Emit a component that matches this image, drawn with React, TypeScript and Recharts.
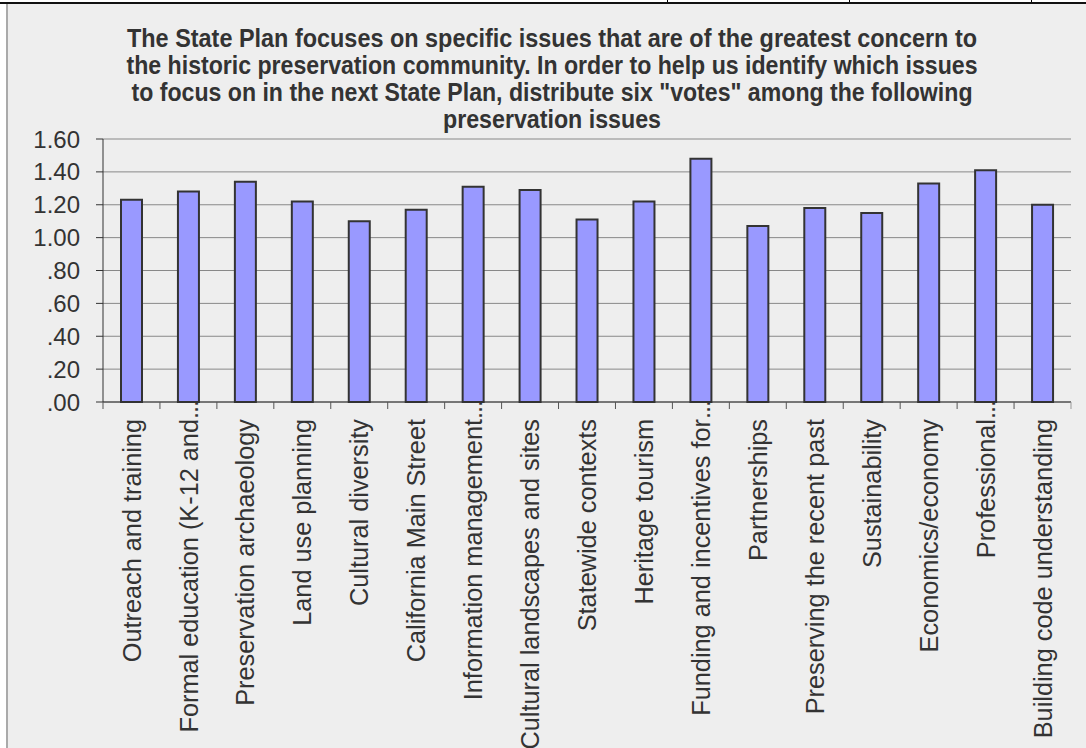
import React from "react";
import { BarChart, Bar, XAxis, YAxis, CartesianGrid } from "recharts";

const categories = [
  "Outreach and training",
  "Formal education (K-12 and...",
  "Preservation archaeology",
  "Land use planning",
  "Cultural diversity",
  "California Main Street",
  "Information management...",
  "Cultural landscapes and sites",
  "Statewide contexts",
  "Heritage tourism",
  "Funding and incentives for...",
  "Partnerships",
  "Preserving the recent past",
  "Sustainability",
  "Economics/economy",
  "Professional...",
  "Building code understanding",
];

const values = [
  1.23, 1.28, 1.34, 1.22, 1.1, 1.17, 1.31, 1.29, 1.11, 1.22, 1.48, 1.07, 1.18,
  1.15, 1.33, 1.41, 1.2,
];

const yTicks = [0, 0.2, 0.4, 0.6, 0.8, 1.0, 1.2, 1.4, 1.6];

const titleLines = [
  "The State Plan focuses on specific issues that are of the greatest concern to",
  "the historic preservation community. In order to help us identify which issues",
  'to focus on in the next State Plan, distribute six "votes" among the following',
  "preservation issues",
];
const titleWidths = [850, 851, 841, 218];

const data = categories.map((name, i) => ({ name, value: values[i] }));

const W = 1086;
const H = 748;
const PLOT_LEFT = 103;
const PLOT_RIGHT = 1071;
const PLOT_TOP = 139;
const PLOT_BOTTOM = 402;
const BAND = (PLOT_RIGHT - PLOT_LEFT) / categories.length;
const FONT = "'Liberation Sans', Arial, sans-serif";
const TEXT = "#333333";

const fmtY = (v: number) => {
  const s = v.toFixed(2);
  return s.startsWith("0") ? s.slice(1) : s;
};

const XTick = (props: any) => {
  const { x, y, payload, index } = props;
  const raw: string = payload.value;
  const cut = raw.endsWith("...");
  const label = cut ? raw.slice(0, -3) : raw;
  const ly = y + 17;
  return (
    <g>
      <line x1={x - BAND / 2} y1={y} x2={x - BAND / 2} y2={y + 7} stroke="#555" />
      {index === categories.length - 1 && (
        <line x1={x + BAND / 2} y1={y} x2={x + BAND / 2} y2={y + 7} stroke="#999" />
      )}
      <text
        x={x}
        y={ly}
        transform={`rotate(-90, ${x}, ${ly})`}
        textAnchor="end"
        dy="0.36em"
        fill={TEXT}
        fontSize={25.3}
        fontFamily={FONT}
      >
        {label}
      </text>
      {cut && (
        <text
          x={x}
          y={ly}
          transform={`rotate(-90, ${x}, ${ly})`}
          textAnchor="start"
          dy="0.36em"
          fill={TEXT}
          fontSize={25.3}
          fontFamily={FONT}
          letterSpacing={-1}
        >
          ...
        </text>
      )}
    </g>
  );
};

export default function App() {
  return (
    <div
      style={{
        position: "absolute",
        left: 0,
        top: 0,
        width: W,
        height: H,
        background: "#ffffff",
        overflow: "hidden",
      }}
    >
      {/* spreadsheet edge above the chart */}
      {[667, 849, 1031].map((x) => (
        <div
          key={x}
          style={{ position: "absolute", left: x, top: 0, width: 1, height: 3, background: "#000" }}
        />
      ))}
      <div style={{ position: "absolute", left: 0, top: 2, width: W, height: 2, background: "#111" }} />
      <div
        style={{
          position: "absolute",
          left: 6,
          top: 4,
          width: W - 6,
          height: H - 4,
          background: "#eeeeee",
          borderLeft: "2px solid #aaaaaa",
          boxSizing: "border-box",
        }}
      />
      <div style={{ position: "absolute", left: 0, top: 0 }}>
        <BarChart
          width={W}
          height={H}
          data={data}
          margin={{ top: PLOT_TOP, right: W - PLOT_RIGHT, bottom: 0, left: 0 }}
        >
          <CartesianGrid vertical={false} stroke="#888888" />
          <XAxis
            dataKey="name"
            height={H - PLOT_BOTTOM}
            axisLine={{ stroke: "#333" }}
            tickLine={false}
            tickSize={0}
            tickMargin={0}
            interval={0}
            tick={<XTick />}
          />
          <YAxis
            width={PLOT_LEFT}
            domain={[0, 1.6]}
            ticks={yTicks}
            interval={0}
            tickFormatter={fmtY}
            axisLine={{ stroke: "#333" }}
            tickLine={{ stroke: "#333" }}
            tickSize={7}
            tickMargin={16}
            tick={{ fill: TEXT, fontSize: 24, fontFamily: FONT }}
          />
          <Bar
            dataKey="value"
            fill="#9999ff"
            stroke="#333333"
            strokeWidth={2}
            barSize={21}
            isAnimationActive={false}
          />
        </BarChart>
      </div>
      <svg
        width={W}
        height={140}
        style={{ position: "absolute", left: 0, top: 0, pointerEvents: "none" }}
      >
        {titleLines.map((line, i) => (
          <text
            key={i}
            x={552}
            y={47 + i * 27}
            textAnchor="middle"
            fill={TEXT}
            fontSize={25}
            fontWeight="bold"
            fontFamily={FONT}
            textLength={titleWidths[i]}
            lengthAdjust="spacingAndGlyphs"
          >
            {line}
          </text>
        ))}
      </svg>
    </div>
  );
}
